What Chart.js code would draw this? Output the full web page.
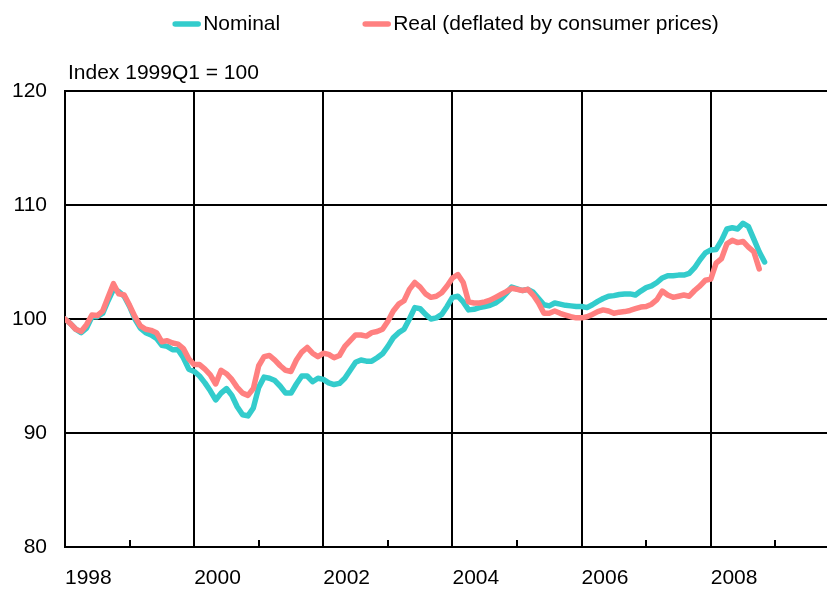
<!DOCTYPE html>
<html>
<head>
<meta charset="utf-8">
<script src="https://cdn.jsdelivr.net/npm/chart.js@4"></script>
<style>
  html, body { margin: 0; padding: 0; background: #fff; }
  #c { display: block; }
</style>
</head>
<body>
<canvas id="c" width="827" height="589"></canvas>
<script>
// ---- data (monthly, first value = January of startYear) ----
const startYear = 1998;
const seriesNames = ['Nominal', 'Real (deflated by consumer prices)'];
const nominal = [
  100.0, 99.6, 99.1, 98.8, 99.2, 100.2, 100.2, 100.5, 101.6, 102.6, 102.4, 102.0,
  101.1, 100.0, 99.2, 98.8, 98.6, 98.3, 97.7, 97.6, 97.3, 97.3, 96.6, 95.6,
  95.4, 95.0, 94.4, 93.7, 92.9, 93.5, 93.9, 93.3, 92.3, 91.6, 91.5, 92.2,
  94.0, 94.9, 94.8, 94.6, 94.1, 93.5, 93.5, 94.3, 95.0, 95.0, 94.5, 94.8,
  94.7, 94.4, 94.25, 94.35, 94.8, 95.5, 96.2, 96.4, 96.3, 96.3, 96.6, 96.95,
  97.6, 98.35, 98.8, 99.1, 100.0, 101.0, 100.9, 100.4, 100.0, 100.1, 100.4, 101.1,
  101.9, 102.0, 101.5, 100.8, 100.85, 101.0, 101.1, 101.2, 101.4, 101.75, 102.25, 102.8,
  102.65, 102.5, 102.6, 102.35, 101.8, 101.25, 101.15, 101.4, 101.3, 101.2, 101.15, 101.1,
  101.1, 101.0, 101.25, 101.55, 101.8, 102.0, 102.05, 102.15, 102.2, 102.2, 102.1, 102.45,
  102.75, 102.9, 103.2, 103.6, 103.8, 103.8, 103.85, 103.85, 104.0, 104.5, 105.2, 105.8,
  106.05, 106.1, 106.9, 107.9, 108.0, 107.9, 108.4, 108.1, 107.0, 105.9, 105.0
];
const real = [
  100.0, 99.6, 99.1, 98.9, 99.5, 100.35, 100.3, 100.7, 101.9, 103.1, 102.2, 102.1,
  101.2, 100.2, 99.4, 99.1, 99.0, 98.8, 98.0, 98.1, 97.9, 97.8, 97.4, 96.5,
  96.0, 96.0, 95.6, 95.1, 94.3, 95.5, 95.2, 94.7, 94.0, 93.5, 93.3, 93.9,
  95.9, 96.7, 96.8, 96.4, 95.9, 95.5, 95.4, 96.4, 97.1, 97.5, 97.0, 96.7,
  97.0, 96.9, 96.6, 96.8, 97.6, 98.1, 98.6, 98.6, 98.5, 98.8, 98.9, 99.1,
  99.8, 100.7, 101.3, 101.6, 102.6, 103.2, 102.8, 102.2, 101.9, 102.0, 102.3, 102.9,
  103.6, 103.9, 103.2, 101.5, 101.4, 101.4, 101.5, 101.65, 101.9, 102.15, 102.4, 102.7,
  102.6, 102.5, 102.6, 102.1, 101.4, 100.5, 100.5, 100.7, 100.5, 100.35, 100.2, 100.1,
  100.1, 100.2, 100.4, 100.65, 100.8, 100.7, 100.5, 100.6, 100.65, 100.75, 100.9, 101.05,
  101.1, 101.3, 101.7, 102.45, 102.1, 101.9, 102.0, 102.1, 102.0, 102.5, 102.9, 103.4,
  103.5, 104.9, 105.3, 106.6, 106.9, 106.7, 106.8, 106.3, 105.9, 104.4
];
const majorYears = [1998, 2000, 2002, 2004, 2006, 2008];
const minorYears = [1999, 2001, 2003, 2005, 2007, 2009];
const yTicks = [80, 90, 100, 110, 120];
const yTitle = 'Index 1999Q1 = 100';

const colNominal = '#33CCCC';
const colReal = '#FF8080';
const FONT = "'Liberation Sans', Arial, Helvetica, sans-serif";

function toPoints(arr) {
  return arr.map((v, i) => ({ x: startYear + i / 12, y: v }));
}

const customDecor = {
  id: 'customDecor',
  afterDatasetsDraw(chart) {
    const ctx = chart.ctx;
    const xs = chart.scales.x;
    const bottom = chart.chartArea.bottom;
    ctx.save();
    ctx.strokeStyle = '#000';
    ctx.lineWidth = 2;
    minorYears.forEach(yr => {
      const px = Math.round(xs.getPixelForValue(yr));
      if (px > chart.chartArea.right) return;
      ctx.beginPath();
      ctx.moveTo(px, bottom);
      ctx.lineTo(px, bottom - 7);
      ctx.stroke();
    });
    ctx.restore();
  },
  afterDraw(chart) {
    const ctx = chart.ctx;
    const ca = chart.chartArea;
    ctx.save();
    ctx.font = '21px ' + FONT;
    ctx.fillStyle = '#000';
    ctx.textBaseline = 'middle';
    ctx.textAlign = 'left';
    ctx.fillText(yTitle, ca.left + 3, 73);
    const sample = 27, gapIn = 3, gapItems = 83;
    const ds = chart.data.datasets;
    const items = [ds.find(d => d.label === seriesNames[0]), ds.find(d => d.label === seriesNames[1])];
    let total = 0;
    items.forEach((d, k) => {
      total += sample + gapIn + ctx.measureText(d.label).width;
      if (k < items.length - 1) total += gapItems;
    });
    let x = (ca.left + ca.right) / 2 - total / 2;
    const ly = 24;
    items.forEach(d => {
      ctx.strokeStyle = d.borderColor;
      ctx.lineWidth = 5.5;
      ctx.lineCap = 'round';
      ctx.beginPath();
      ctx.moveTo(x + 2, ly);
      ctx.lineTo(x + sample - 2, ly);
      ctx.stroke();
      x += sample + gapIn;
      ctx.fillText(d.label, x, ly);
      x += ctx.measureText(d.label).width + gapItems;
    });
    ctx.restore();
  }
};

new Chart(document.getElementById('c'), {
  type: 'line',
  data: {
    datasets: [
      {
        label: seriesNames[0],
        data: toPoints(nominal),
        borderColor: colNominal,
        backgroundColor: colNominal,
        borderWidth: 5.5,
        pointRadius: 0,
        tension: 0,
        borderJoinStyle: 'round',
        borderCapStyle: 'round',
        order: 2
      },
      {
        label: seriesNames[1],
        data: toPoints(real),
        borderColor: colReal,
        backgroundColor: colReal,
        borderWidth: 5.5,
        pointRadius: 0,
        tension: 0,
        borderJoinStyle: 'round',
        borderCapStyle: 'round',
        order: 1
      }
    ]
  },
  options: {
    responsive: false,
    animation: false,
    devicePixelRatio: 1,
    layout: { padding: { top: 91, right: 0, bottom: 0, left: 0 } },
    plugins: {
      legend: { display: false },
      title: { display: false },
      tooltip: { enabled: false }
    },
    scales: {
      x: {
        type: 'linear',
        min: 1998,
        max: 2009.8,
        afterBuildTicks(scale) {
          const all = majorYears.concat(minorYears).sort((a, b) => a - b);
          scale.ticks = all.map(v => ({ value: v }));
        },
        afterFit(scale) { scale.height = 42; },
        grid: {
          color: (c) => (c.tick && majorYears.includes(c.tick.value)) ? '#000' : 'rgba(0,0,0,0)',
          lineWidth: 2,
          drawTicks: false
        },
        border: { color: '#000', width: 2 },
        ticks: {
          autoSkip: false,
          maxRotation: 0,
          align: 'start',
          padding: 19,
          color: '#000',
          font: { family: FONT, size: 21 },
          callback: (v) => majorYears.includes(v) ? String(v) : ''
        }
      },
      y: {
        min: 80,
        max: 120,
        afterBuildTicks(scale) { scale.ticks = yTicks.map(v => ({ value: v })); },
        afterFit(scale) { scale.width = 65; },
        grid: { color: '#000', lineWidth: 2, drawTicks: false },
        border: { color: '#000', width: 2 },
        ticks: {
          padding: 18,
          color: '#000',
          font: { family: FONT, size: 21 }
        }
      }
    }
  },
  plugins: [customDecor]
});
</script>
</body>
</html>
